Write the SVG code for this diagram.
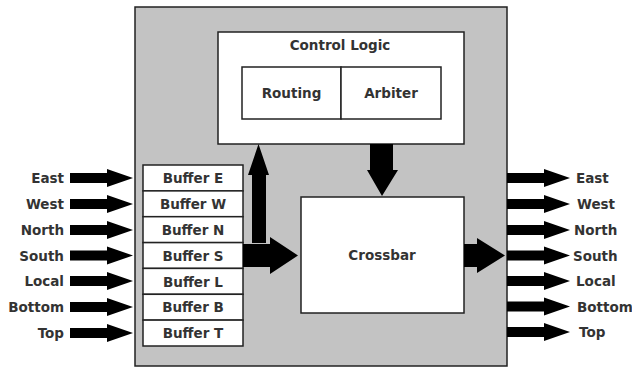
<svg xmlns="http://www.w3.org/2000/svg" width="632" height="367" viewBox="0 0 632 367">
  <style>
    .box { fill: #ffffff; stroke: #222222; stroke-width: 1.5; }
    .chip { fill: #c3c3c3; stroke: #222222; stroke-width: 1.5; }
    .lbl { font-family: "DejaVu Sans", Verdana, sans-serif; font-weight: bold; font-size: 13.5px; fill: #333333; }
    .mid { text-anchor: middle; }
    .end { text-anchor: end; }
    .arrow { fill: #000000; }
  </style>
  <defs>
    <!-- port arrow with origin at the shaft's left end, centred vertically -->
    <polygon id="port" points="0,-5 37,-5 37,-9 63,0 37,9 37,5 0,5"/>
  </defs>

  <rect width="632" height="367" fill="#ffffff"/>

  <!-- router body -->
  <g id="router">
    <rect class="chip" x="135" y="7" width="372" height="359"/>
  </g>

  <g id="control-logic">
    <rect class="box" x="218" y="32" width="246" height="112"/>
    <text class="lbl mid" x="340" y="50">Control Logic</text>
  </g>
  <g id="routing">
    <rect class="box" x="242" y="67" width="99" height="52"/>
    <text class="lbl mid" x="291.5" y="98">Routing</text>
  </g>
  <g id="arbiter">
    <rect class="box" x="341" y="67" width="100" height="52"/>
    <text class="lbl mid" x="391" y="98">Arbiter</text>
  </g>

  <g id="crossbar">
    <rect class="box" x="301" y="197" width="163" height="116"/>
    <text class="lbl mid" x="382" y="260">Crossbar</text>
  </g>

  <g id="buffer-e"><rect class="box" x="143" y="165" width="100" height="25.9"/><text class="lbl mid" x="193" y="183">Buffer E</text></g>
  <g id="buffer-w"><rect class="box" x="143" y="190.9" width="100" height="25.8"/><text class="lbl mid" x="193" y="209">Buffer W</text></g>
  <g id="buffer-n"><rect class="box" x="143" y="216.7" width="100" height="25.9"/><text class="lbl mid" x="193" y="235">Buffer N</text></g>
  <g id="buffer-s"><rect class="box" x="143" y="242.6" width="100" height="25.8"/><text class="lbl mid" x="193" y="260.5">Buffer S</text></g>
  <g id="buffer-l"><rect class="box" x="143" y="268.4" width="100" height="25.9"/><text class="lbl mid" x="193" y="286.5">Buffer L</text></g>
  <g id="buffer-b"><rect class="box" x="143" y="294.3" width="100" height="25.8"/><text class="lbl mid" x="193" y="312">Buffer B</text></g>
  <g id="buffer-t"><rect class="box" x="143" y="320.1" width="100" height="25.9"/><text class="lbl mid" x="193" y="338">Buffer T</text></g>

  <!-- connectors -->
  <g id="connectors" class="arrow">
    <!-- inputs -->
    <use href="#port" x="70" y="178"/>
    <use href="#port" x="70" y="204"/>
    <use href="#port" x="70" y="230"/>
    <use href="#port" x="70" y="255.5"/>
    <use href="#port" x="70" y="281"/>
    <use href="#port" x="70" y="307"/>
    <use href="#port" x="70" y="333"/>
    <!-- outputs -->
    <use href="#port" x="507" y="178"/>
    <use href="#port" x="507" y="204"/>
    <use href="#port" x="507" y="230"/>
    <use href="#port" x="507" y="255.5"/>
    <use href="#port" x="507" y="281"/>
    <use href="#port" x="507" y="306.5"/>
    <use href="#port" x="507" y="332"/>
    <!-- buffers up to control logic -->
    <polygon points="252,243 252,175 248,175 258.5,144 269,175 266,175 266,243"/>
    <!-- buffers to crossbar -->
    <polygon points="243,244 270,244 270,237 298,255.5 270,274 270,267 243,267"/>
    <!-- control logic down to crossbar -->
    <polygon points="370,144 393,144 393,170 398,170 382,196 367,170 370,170"/>
    <!-- crossbar out -->
    <polygon points="464,244 477,244 477,238 505,255.5 477,273 477,267 464,267"/>
  </g>

  <!-- port names -->
  <g id="in-labels">
    <text class="lbl end" x="64" y="183">East</text>
    <text class="lbl end" x="64" y="209">West</text>
    <text class="lbl end" x="64" y="235">North</text>
    <text class="lbl end" x="64" y="260.5">South</text>
    <text class="lbl end" x="64" y="286">Local</text>
    <text class="lbl end" x="64" y="312">Bottom</text>
    <text class="lbl end" x="64" y="338">Top</text>
  </g>
  <g id="out-labels">
    <text class="lbl" x="576" y="183">East</text>
    <text class="lbl" x="577" y="209">West</text>
    <text class="lbl" x="574" y="235">North</text>
    <text class="lbl" x="573" y="260.5">South</text>
    <text class="lbl" x="576" y="286">Local</text>
    <text class="lbl" x="577" y="311.5">Bottom</text>
    <text class="lbl" x="579" y="337">Top</text>
  </g>
</svg>
